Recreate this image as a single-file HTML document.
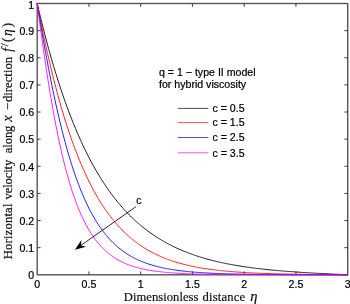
<!DOCTYPE html>
<html><head><meta charset="utf-8"><title>Velocity profile</title>
<style>
html,body{margin:0;padding:0;background:#fff;}
svg{display:block}
text{filter:grayscale(1)}
.t{font-family:"Liberation Sans",Arial,Helvetica,sans-serif;font-size:10.6px;fill:#000;stroke:#000;stroke-width:0.22px}
.s{font-family:"Liberation Serif","Times New Roman",serif;font-size:12.6px;fill:#111;stroke:#111;stroke-width:0.2px}
</style></head><body>
<svg width="350" height="304" viewBox="0 0 350 304">
<rect width="350" height="304" fill="#fff"/>
<rect x="37.2" y="3.5" width="310.50" height="271.30" fill="none" stroke="#555" stroke-width="1.4"/>
<text x="37.20" y="287.8" text-anchor="middle" class="t">0</text>
<path d="M88.95,274.8 v-3.4 M88.95,3.5 v3.4" stroke="#2a2a2a" stroke-width="0.9"/>
<text x="88.95" y="287.8" text-anchor="middle" class="t">0.5</text>
<path d="M140.70,274.8 v-3.4 M140.70,3.5 v3.4" stroke="#2a2a2a" stroke-width="0.9"/>
<text x="140.70" y="287.8" text-anchor="middle" class="t">1</text>
<path d="M192.45,274.8 v-3.4 M192.45,3.5 v3.4" stroke="#2a2a2a" stroke-width="0.9"/>
<text x="192.45" y="287.8" text-anchor="middle" class="t">1.5</text>
<path d="M244.20,274.8 v-3.4 M244.20,3.5 v3.4" stroke="#2a2a2a" stroke-width="0.9"/>
<text x="244.20" y="287.8" text-anchor="middle" class="t">2</text>
<path d="M295.95,274.8 v-3.4 M295.95,3.5 v3.4" stroke="#2a2a2a" stroke-width="0.9"/>
<text x="295.95" y="287.8" text-anchor="middle" class="t">2.5</text>
<text x="347.70" y="287.8" text-anchor="middle" class="t">3</text>
<text x="34.2" y="279.10" text-anchor="end" class="t">0</text>
<path d="M37.2,247.67 h3.4 M347.7,247.67 h-3.4" stroke="#2a2a2a" stroke-width="0.9"/>
<text x="34.2" y="251.97" text-anchor="end" class="t">0.1</text>
<path d="M37.2,220.54 h3.4 M347.7,220.54 h-3.4" stroke="#2a2a2a" stroke-width="0.9"/>
<text x="34.2" y="224.84" text-anchor="end" class="t">0.2</text>
<path d="M37.2,193.41 h3.4 M347.7,193.41 h-3.4" stroke="#2a2a2a" stroke-width="0.9"/>
<text x="34.2" y="197.71" text-anchor="end" class="t">0.3</text>
<path d="M37.2,166.28 h3.4 M347.7,166.28 h-3.4" stroke="#2a2a2a" stroke-width="0.9"/>
<text x="34.2" y="170.58" text-anchor="end" class="t">0.4</text>
<path d="M37.2,139.15 h3.4 M347.7,139.15 h-3.4" stroke="#2a2a2a" stroke-width="0.9"/>
<text x="34.2" y="143.45" text-anchor="end" class="t">0.5</text>
<path d="M37.2,112.02 h3.4 M347.7,112.02 h-3.4" stroke="#2a2a2a" stroke-width="0.9"/>
<text x="34.2" y="116.32" text-anchor="end" class="t">0.6</text>
<path d="M37.2,84.89 h3.4 M347.7,84.89 h-3.4" stroke="#2a2a2a" stroke-width="0.9"/>
<text x="34.2" y="89.19" text-anchor="end" class="t">0.7</text>
<path d="M37.2,57.76 h3.4 M347.7,57.76 h-3.4" stroke="#2a2a2a" stroke-width="0.9"/>
<text x="34.2" y="62.06" text-anchor="end" class="t">0.8</text>
<path d="M37.2,30.63 h3.4 M347.7,30.63 h-3.4" stroke="#2a2a2a" stroke-width="0.9"/>
<text x="34.2" y="34.93" text-anchor="end" class="t">0.9</text>
<text x="34.2" y="8.70" text-anchor="end" class="t">1</text>

<path d="M37.20,3.50 L38.23,7.93 L39.27,12.29 L40.30,16.59 L41.34,20.81 L42.38,24.98 L43.41,29.07 L44.45,33.10 L45.48,37.07 L46.52,40.98 L47.55,44.83 L48.59,48.61 L49.62,52.34 L50.66,56.01 L51.69,59.61 L52.73,63.17 L53.76,66.66 L54.80,70.10 L55.83,73.49 L56.87,76.82 L57.90,80.10 L58.94,83.33 L59.97,86.51 L61.01,89.64 L62.04,92.71 L63.08,95.74 L64.11,98.72 L65.15,101.65 L66.18,104.54 L67.22,107.38 L68.25,110.17 L69.28,112.92 L70.32,115.62 L71.36,118.28 L72.39,120.90 L73.43,123.48 L74.46,126.01 L75.50,128.51 L76.53,130.96 L77.56,133.38 L78.60,135.75 L79.64,138.09 L80.67,140.39 L81.71,142.65 L82.74,144.87 L83.78,147.06 L84.81,149.22 L85.84,151.34 L86.88,153.42 L87.91,155.47 L88.95,157.49 L89.99,159.47 L91.02,161.42 L92.06,163.34 L93.09,165.23 L94.12,167.09 L95.16,168.91 L96.20,170.71 L97.23,172.48 L98.27,174.22 L99.30,175.93 L100.34,177.61 L101.37,179.26 L102.41,180.89 L103.44,182.49 L104.48,184.07 L105.51,185.61 L106.55,187.14 L107.58,188.63 L108.62,190.11 L109.65,191.55 L110.69,192.98 L111.72,194.38 L112.75,195.75 L113.79,197.11 L114.83,198.44 L115.86,199.75 L116.89,201.04 L117.93,202.31 L118.97,203.55 L120.00,204.78 L121.04,205.98 L122.07,207.16 L123.11,208.33 L124.14,209.47 L125.17,210.60 L126.21,211.71 L127.24,212.80 L128.28,213.87 L129.31,214.92 L130.35,215.95 L131.38,216.97 L132.42,217.97 L133.45,218.95 L134.49,219.92 L135.53,220.87 L136.56,221.81 L137.59,222.73 L138.63,223.63 L139.67,224.52 L140.70,225.39 L141.74,226.25 L142.77,227.09 L143.81,227.92 L144.84,228.74 L145.88,229.54 L146.91,230.33 L147.94,231.10 L148.98,231.87 L150.01,232.61 L151.05,233.35 L152.09,234.07 L153.12,234.79 L154.16,235.48 L155.19,236.17 L156.23,236.85 L157.26,237.51 L158.29,238.17 L159.33,238.81 L160.37,239.44 L161.40,240.06 L162.44,240.67 L163.47,241.27 L164.50,241.86 L165.54,242.44 L166.57,243.00 L167.61,243.56 L168.64,244.11 L169.68,244.65 L170.71,245.18 L171.75,245.71 L172.79,246.22 L173.82,246.72 L174.86,247.22 L175.89,247.71 L176.93,248.19 L177.96,248.66 L179.00,249.12 L180.03,249.57 L181.06,250.02 L182.10,250.46 L183.13,250.89 L184.17,251.32 L185.20,251.73 L186.24,252.14 L187.27,252.55 L188.31,252.94 L189.35,253.33 L190.38,253.71 L191.42,254.09 L192.45,254.46 L193.49,254.82 L194.52,255.18 L195.56,255.53 L196.59,255.87 L197.62,256.21 L198.66,256.54 L199.69,256.87 L200.73,257.19 L201.76,257.51 L202.80,257.82 L203.84,258.12 L204.87,258.42 L205.91,258.72 L206.94,259.01 L207.98,259.29 L209.01,259.57 L210.05,259.85 L211.08,260.12 L212.12,260.38 L213.15,260.64 L214.19,260.90 L215.22,261.15 L216.25,261.40 L217.29,261.64 L218.32,261.88 L219.36,262.12 L220.39,262.35 L221.43,262.57 L222.47,262.80 L223.50,263.02 L224.54,263.23 L225.57,263.44 L226.61,263.65 L227.64,263.86 L228.68,264.06 L229.71,264.26 L230.75,264.45 L231.78,264.64 L232.81,264.83 L233.85,265.01 L234.88,265.20 L235.92,265.37 L236.95,265.55 L237.99,265.72 L239.03,265.89 L240.06,266.06 L241.09,266.22 L242.13,266.38 L243.17,266.54 L244.20,266.70 L245.24,266.85 L246.27,267.00 L247.31,267.15 L248.34,267.29 L249.38,267.44 L250.41,267.58 L251.44,267.72 L252.48,267.85 L253.51,267.99 L254.55,268.12 L255.58,268.25 L256.62,268.38 L257.65,268.50 L258.69,268.62 L259.73,268.75 L260.76,268.86 L261.79,268.98 L262.83,269.10 L263.87,269.21 L264.90,269.32 L265.94,269.43 L266.97,269.54 L268.00,269.65 L269.04,269.75 L270.07,269.85 L271.11,269.96 L272.15,270.06 L273.18,270.15 L274.21,270.25 L275.25,270.35 L276.29,270.44 L277.32,270.53 L278.36,270.62 L279.39,270.71 L280.43,270.80 L281.46,270.89 L282.50,270.98 L283.53,271.06 L284.57,271.14 L285.60,271.23 L286.63,271.31 L287.67,271.39 L288.71,271.46 L289.74,271.54 L290.78,271.62 L291.81,271.69 L292.85,271.77 L293.88,271.84 L294.92,271.91 L295.95,271.99 L296.99,272.06 L298.02,272.13 L299.06,272.19 L300.09,272.26 L301.12,272.33 L302.16,272.40 L303.19,272.46 L304.23,272.53 L305.26,272.59 L306.30,272.65 L307.33,272.72 L308.37,272.78 L309.40,272.84 L310.44,272.90 L311.47,272.96 L312.51,273.02 L313.55,273.08 L314.58,273.13 L315.61,273.19 L316.65,273.25 L317.69,273.31 L318.72,273.36 L319.75,273.42 L320.79,273.47 L321.82,273.53 L322.86,273.58 L323.89,273.63 L324.93,273.69 L325.97,273.74 L327.00,273.79 L328.03,273.85 L329.07,273.90 L330.11,273.95 L331.14,274.00 L332.18,274.05 L333.21,274.10 L334.25,274.15 L335.28,274.20 L336.31,274.26 L337.35,274.31 L338.38,274.36 L339.42,274.41 L340.45,274.45 L341.49,274.50 L342.53,274.55 L343.56,274.60 L344.60,274.65 L345.63,274.70 L346.67,274.75 L347.70,274.80" fill="none" stroke="#000" stroke-width="0.88"/>
<path d="M37.20,3.50 L38.23,8.92 L39.27,14.25 L40.30,19.48 L41.34,24.62 L42.38,29.66 L43.41,34.62 L44.45,39.49 L45.48,44.27 L46.52,48.96 L47.55,53.57 L48.59,58.10 L49.62,62.54 L50.66,66.90 L51.69,71.18 L52.73,75.39 L53.76,79.51 L54.80,83.56 L55.83,87.53 L56.87,91.43 L57.90,95.26 L58.94,99.01 L59.97,102.69 L61.01,106.31 L62.04,109.85 L63.08,113.33 L64.11,116.74 L65.15,120.09 L66.18,123.37 L67.22,126.58 L68.25,129.74 L69.28,132.84 L70.32,135.87 L71.36,138.85 L72.39,141.76 L73.43,144.63 L74.46,147.43 L75.50,150.18 L76.53,152.87 L77.56,155.52 L78.60,158.10 L79.64,160.64 L80.67,163.13 L81.71,165.57 L82.74,167.95 L83.78,170.29 L84.81,172.59 L85.84,174.83 L86.88,177.03 L87.91,179.19 L88.95,181.30 L89.99,183.37 L91.02,185.40 L92.06,187.38 L93.09,189.33 L94.12,191.23 L95.16,193.10 L96.20,194.92 L97.23,196.71 L98.27,198.46 L99.30,200.18 L100.34,201.86 L101.37,203.50 L102.41,205.11 L103.44,206.69 L104.48,208.23 L105.51,209.74 L106.55,211.22 L107.58,212.66 L108.62,214.08 L109.65,215.46 L110.69,216.82 L111.72,218.15 L112.75,219.44 L113.79,220.71 L114.83,221.96 L115.86,223.17 L116.89,224.36 L117.93,225.53 L118.97,226.67 L120.00,227.78 L121.04,228.87 L122.07,229.94 L123.11,230.98 L124.14,232.00 L125.17,233.00 L126.21,233.97 L127.24,234.93 L128.28,235.86 L129.31,236.77 L130.35,237.66 L131.38,238.54 L132.42,239.39 L133.45,240.22 L134.49,241.04 L135.53,241.84 L136.56,242.62 L137.59,243.38 L138.63,244.12 L139.67,244.85 L140.70,245.56 L141.74,246.26 L142.77,246.94 L143.81,247.60 L144.84,248.25 L145.88,248.89 L146.91,249.51 L147.94,250.11 L148.98,250.71 L150.01,251.28 L151.05,251.85 L152.09,252.40 L153.12,252.94 L154.16,253.47 L155.19,253.99 L156.23,254.49 L157.26,254.98 L158.29,255.46 L159.33,255.93 L160.37,256.39 L161.40,256.84 L162.44,257.27 L163.47,257.70 L164.50,258.12 L165.54,258.52 L166.57,258.92 L167.61,259.31 L168.64,259.69 L169.68,260.06 L170.71,260.42 L171.75,260.78 L172.79,261.12 L173.82,261.46 L174.86,261.79 L175.89,262.11 L176.93,262.42 L177.96,262.73 L179.00,263.03 L180.03,263.32 L181.06,263.60 L182.10,263.88 L183.13,264.15 L184.17,264.42 L185.20,264.68 L186.24,264.93 L187.27,265.17 L188.31,265.41 L189.35,265.65 L190.38,265.88 L191.42,266.10 L192.45,266.32 L193.49,266.53 L194.52,266.74 L195.56,266.94 L196.59,267.14 L197.62,267.33 L198.66,267.52 L199.69,267.70 L200.73,267.88 L201.76,268.06 L202.80,268.23 L203.84,268.39 L204.87,268.56 L205.91,268.71 L206.94,268.87 L207.98,269.02 L209.01,269.17 L210.05,269.31 L211.08,269.45 L212.12,269.59 L213.15,269.72 L214.19,269.85 L215.22,269.97 L216.25,270.10 L217.29,270.22 L218.32,270.34 L219.36,270.45 L220.39,270.56 L221.43,270.67 L222.47,270.78 L223.50,270.88 L224.54,270.98 L225.57,271.08 L226.61,271.18 L227.64,271.27 L228.68,271.36 L229.71,271.45 L230.75,271.54 L231.78,271.62 L232.81,271.70 L233.85,271.78 L234.88,271.86 L235.92,271.94 L236.95,272.01 L237.99,272.08 L239.03,272.16 L240.06,272.22 L241.09,272.29 L242.13,272.36 L243.17,272.42 L244.20,272.48 L245.24,272.54 L246.27,272.60 L247.31,272.66 L248.34,272.72 L249.38,272.77 L250.41,272.83 L251.44,272.88 L252.48,272.93 L253.51,272.98 L254.55,273.03 L255.58,273.07 L256.62,273.12 L257.65,273.17 L258.69,273.21 L259.73,273.25 L260.76,273.29 L261.79,273.33 L262.83,273.37 L263.87,273.41 L264.90,273.45 L265.94,273.48 L266.97,273.52 L268.00,273.56 L269.04,273.59 L270.07,273.62 L271.11,273.65 L272.15,273.69 L273.18,273.72 L274.21,273.75 L275.25,273.77 L276.29,273.80 L277.32,273.83 L278.36,273.86 L279.39,273.88 L280.43,273.91 L281.46,273.93 L282.50,273.96 L283.53,273.98 L284.57,274.01 L285.60,274.03 L286.63,274.05 L287.67,274.07 L288.71,274.09 L289.74,274.11 L290.78,274.13 L291.81,274.15 L292.85,274.17 L293.88,274.19 L294.92,274.21 L295.95,274.23 L296.99,274.25 L298.02,274.26 L299.06,274.28 L300.09,274.30 L301.12,274.31 L302.16,274.33 L303.19,274.34 L304.23,274.36 L305.26,274.37 L306.30,274.39 L307.33,274.40 L308.37,274.41 L309.40,274.43 L310.44,274.44 L311.47,274.45 L312.51,274.47 L313.55,274.48 L314.58,274.49 L315.61,274.50 L316.65,274.51 L317.69,274.52 L318.72,274.54 L319.75,274.55 L320.79,274.56 L321.82,274.57 L322.86,274.58 L323.89,274.59 L324.93,274.60 L325.97,274.61 L327.00,274.62 L328.03,274.63 L329.07,274.64 L330.11,274.65 L331.14,274.66 L332.18,274.67 L333.21,274.68 L334.25,274.69 L335.28,274.70 L336.31,274.70 L337.35,274.71 L338.38,274.72 L339.42,274.73 L340.45,274.74 L341.49,274.75 L342.53,274.76 L343.56,274.77 L344.60,274.77 L345.63,274.78 L346.67,274.79 L347.70,274.80" fill="none" stroke="#f00" stroke-width="0.88"/>
<path d="M37.20,3.50 L38.23,9.83 L39.27,16.09 L40.30,22.27 L41.34,28.37 L42.38,34.39 L43.41,40.31 L44.45,46.15 L45.48,51.89 L46.52,57.54 L47.55,63.10 L48.59,68.55 L49.62,73.91 L50.66,79.17 L51.69,84.33 L52.73,89.39 L53.76,94.35 L54.80,99.20 L55.83,103.96 L56.87,108.61 L57.90,113.17 L58.94,117.62 L59.97,121.97 L61.01,126.23 L62.04,130.39 L63.08,134.45 L64.11,138.41 L65.15,142.28 L66.18,146.06 L67.22,149.74 L68.25,153.34 L69.28,156.84 L70.32,160.25 L71.36,163.58 L72.39,166.82 L73.43,169.98 L74.46,173.06 L75.50,176.05 L76.53,178.96 L77.56,181.80 L78.60,184.56 L79.64,187.24 L80.67,189.86 L81.71,192.39 L82.74,194.86 L83.78,197.26 L84.81,199.60 L85.84,201.87 L86.88,204.07 L87.91,206.21 L88.95,208.29 L89.99,210.31 L91.02,212.27 L92.06,214.18 L93.09,216.03 L94.12,217.83 L95.16,219.57 L96.20,221.26 L97.23,222.91 L98.27,224.50 L99.30,226.05 L100.34,227.55 L101.37,229.01 L102.41,230.42 L103.44,231.79 L104.48,233.12 L105.51,234.41 L106.55,235.66 L107.58,236.88 L108.62,238.05 L109.65,239.19 L110.69,240.30 L111.72,241.37 L112.75,242.41 L113.79,243.42 L114.83,244.40 L115.86,245.35 L116.89,246.26 L117.93,247.15 L118.97,248.02 L120.00,248.85 L121.04,249.66 L122.07,250.45 L123.11,251.21 L124.14,251.95 L125.17,252.66 L126.21,253.35 L127.24,254.02 L128.28,254.67 L129.31,255.30 L130.35,255.91 L131.38,256.51 L132.42,257.08 L133.45,257.63 L134.49,258.17 L135.53,258.69 L136.56,259.20 L137.59,259.69 L138.63,260.16 L139.67,260.62 L140.70,261.06 L141.74,261.49 L142.77,261.91 L143.81,262.31 L144.84,262.70 L145.88,263.08 L146.91,263.45 L147.94,263.81 L148.98,264.15 L150.01,264.48 L151.05,264.81 L152.09,265.12 L153.12,265.42 L154.16,265.72 L155.19,266.00 L156.23,266.28 L157.26,266.54 L158.29,266.80 L159.33,267.05 L160.37,267.29 L161.40,267.53 L162.44,267.76 L163.47,267.98 L164.50,268.19 L165.54,268.40 L166.57,268.60 L167.61,268.79 L168.64,268.98 L169.68,269.16 L170.71,269.33 L171.75,269.51 L172.79,269.67 L173.82,269.83 L174.86,269.99 L175.89,270.14 L176.93,270.28 L177.96,270.42 L179.00,270.56 L180.03,270.69 L181.06,270.82 L182.10,270.94 L183.13,271.06 L184.17,271.18 L185.20,271.29 L186.24,271.40 L187.27,271.51 L188.31,271.61 L189.35,271.71 L190.38,271.80 L191.42,271.90 L192.45,271.99 L193.49,272.08 L194.52,272.16 L195.56,272.24 L196.59,272.32 L197.62,272.40 L198.66,272.47 L199.69,272.55 L200.73,272.62 L201.76,272.68 L202.80,272.75 L203.84,272.81 L204.87,272.87 L205.91,272.93 L206.94,272.99 L207.98,273.05 L209.01,273.10 L210.05,273.15 L211.08,273.21 L212.12,273.25 L213.15,273.30 L214.19,273.35 L215.22,273.39 L216.25,273.44 L217.29,273.48 L218.32,273.52 L219.36,273.56 L220.39,273.60 L221.43,273.64 L222.47,273.67 L223.50,273.71 L224.54,273.74 L225.57,273.77 L226.61,273.80 L227.64,273.84 L228.68,273.87 L229.71,273.89 L230.75,273.92 L231.78,273.95 L232.81,273.98 L233.85,274.00 L234.88,274.03 L235.92,274.05 L236.95,274.07 L237.99,274.10 L239.03,274.12 L240.06,274.14 L241.09,274.16 L242.13,274.18 L243.17,274.20 L244.20,274.22 L245.24,274.23 L246.27,274.25 L247.31,274.27 L248.34,274.28 L249.38,274.30 L250.41,274.32 L251.44,274.33 L252.48,274.35 L253.51,274.36 L254.55,274.37 L255.58,274.39 L256.62,274.40 L257.65,274.41 L258.69,274.42 L259.73,274.44 L260.76,274.45 L261.79,274.46 L262.83,274.47 L263.87,274.48 L264.90,274.49 L265.94,274.50 L266.97,274.51 L268.00,274.52 L269.04,274.53 L270.07,274.53 L271.11,274.54 L272.15,274.55 L273.18,274.56 L274.21,274.57 L275.25,274.57 L276.29,274.58 L277.32,274.59 L278.36,274.59 L279.39,274.60 L280.43,274.61 L281.46,274.61 L282.50,274.62 L283.53,274.62 L284.57,274.63 L285.60,274.64 L286.63,274.64 L287.67,274.65 L288.71,274.65 L289.74,274.66 L290.78,274.66 L291.81,274.67 L292.85,274.67 L293.88,274.67 L294.92,274.68 L295.95,274.68 L296.99,274.69 L298.02,274.69 L299.06,274.69 L300.09,274.70 L301.12,274.70 L302.16,274.70 L303.19,274.71 L304.23,274.71 L305.26,274.71 L306.30,274.72 L307.33,274.72 L308.37,274.72 L309.40,274.73 L310.44,274.73 L311.47,274.73 L312.51,274.73 L313.55,274.74 L314.58,274.74 L315.61,274.74 L316.65,274.74 L317.69,274.75 L318.72,274.75 L319.75,274.75 L320.79,274.75 L321.82,274.76 L322.86,274.76 L323.89,274.76 L324.93,274.76 L325.97,274.76 L327.00,274.77 L328.03,274.77 L329.07,274.77 L330.11,274.77 L331.14,274.77 L332.18,274.77 L333.21,274.78 L334.25,274.78 L335.28,274.78 L336.31,274.78 L337.35,274.78 L338.38,274.79 L339.42,274.79 L340.45,274.79 L341.49,274.79 L342.53,274.79 L343.56,274.79 L344.60,274.80 L345.63,274.80 L346.67,274.80 L347.70,274.80" fill="none" stroke="#00f" stroke-width="0.88"/>
<path d="M37.20,3.50 L38.23,11.45 L39.27,19.30 L40.30,27.02 L41.34,34.60 L42.38,42.06 L43.41,49.37 L44.45,56.53 L45.48,63.54 L46.52,70.40 L47.55,77.10 L48.59,83.64 L49.62,90.02 L50.66,96.23 L51.69,102.29 L52.73,108.18 L53.76,113.92 L54.80,119.49 L55.83,124.90 L56.87,130.16 L57.90,135.26 L58.94,140.21 L59.97,145.00 L61.01,149.65 L62.04,154.15 L63.08,158.51 L64.11,162.73 L65.15,166.81 L66.18,170.76 L67.22,174.58 L68.25,178.26 L69.28,181.83 L70.32,185.27 L71.36,188.59 L72.39,191.80 L73.43,194.90 L74.46,197.89 L75.50,200.77 L76.53,203.55 L77.56,206.23 L78.60,208.81 L79.64,211.31 L80.67,213.71 L81.71,216.02 L82.74,218.25 L83.78,220.40 L84.81,222.47 L85.84,224.46 L86.88,226.38 L87.91,228.22 L88.95,230.00 L89.99,231.71 L91.02,233.36 L92.06,234.95 L93.09,236.47 L94.12,237.94 L95.16,239.36 L96.20,240.71 L97.23,242.02 L98.27,243.28 L99.30,244.49 L100.34,245.66 L101.37,246.78 L102.41,247.85 L103.44,248.89 L104.48,249.88 L105.51,250.84 L106.55,251.76 L107.58,252.65 L108.62,253.50 L109.65,254.32 L110.69,255.11 L111.72,255.87 L112.75,256.59 L113.79,257.29 L114.83,257.97 L115.86,258.61 L116.89,259.24 L117.93,259.83 L118.97,260.41 L120.00,260.96 L121.04,261.49 L122.07,262.01 L123.11,262.50 L124.14,262.97 L125.17,263.42 L126.21,263.86 L127.24,264.28 L128.28,264.68 L129.31,265.07 L130.35,265.44 L131.38,265.80 L132.42,266.15 L133.45,266.48 L134.49,266.80 L135.53,267.10 L136.56,267.40 L137.59,267.68 L138.63,267.95 L139.67,268.22 L140.70,268.47 L141.74,268.71 L142.77,268.94 L143.81,269.17 L144.84,269.38 L145.88,269.59 L146.91,269.79 L147.94,269.98 L148.98,270.16 L150.01,270.34 L151.05,270.51 L152.09,270.67 L153.12,270.83 L154.16,270.98 L155.19,271.13 L156.23,271.27 L157.26,271.40 L158.29,271.53 L159.33,271.65 L160.37,271.77 L161.40,271.89 L162.44,272.00 L163.47,272.11 L164.50,272.21 L165.54,272.31 L166.57,272.40 L167.61,272.49 L168.64,272.58 L169.68,272.66 L170.71,272.74 L171.75,272.82 L172.79,272.90 L173.82,272.97 L174.86,273.04 L175.89,273.11 L176.93,273.17 L177.96,273.23 L179.00,273.29 L180.03,273.35 L181.06,273.40 L182.10,273.46 L183.13,273.51 L184.17,273.56 L185.20,273.60 L186.24,273.65 L187.27,273.69 L188.31,273.73 L189.35,273.77 L190.38,273.81 L191.42,273.85 L192.45,273.88 L193.49,273.92 L194.52,273.95 L195.56,273.98 L196.59,274.02 L197.62,274.04 L198.66,274.07 L199.69,274.10 L200.73,274.13 L201.76,274.15 L202.80,274.18 L203.84,274.20 L204.87,274.22 L205.91,274.24 L206.94,274.27 L207.98,274.29 L209.01,274.30 L210.05,274.32 L211.08,274.34 L212.12,274.36 L213.15,274.38 L214.19,274.39 L215.22,274.41 L216.25,274.42 L217.29,274.44 L218.32,274.45 L219.36,274.46 L220.39,274.48 L221.43,274.49 L222.47,274.50 L223.50,274.51 L224.54,274.52 L225.57,274.53 L226.61,274.54 L227.64,274.55 L228.68,274.56 L229.71,274.57 L230.75,274.58 L231.78,274.59 L232.81,274.59 L233.85,274.60 L234.88,274.61 L235.92,274.62 L236.95,274.62 L237.99,274.63 L239.03,274.64 L240.06,274.64 L241.09,274.65 L242.13,274.65 L243.17,274.66 L244.20,274.67 L245.24,274.67 L246.27,274.68 L247.31,274.68 L248.34,274.68 L249.38,274.69 L250.41,274.69 L251.44,274.70 L252.48,274.70 L253.51,274.70 L254.55,274.71 L255.58,274.71 L256.62,274.71 L257.65,274.72 L258.69,274.72 L259.73,274.72 L260.76,274.73 L261.79,274.73 L262.83,274.73 L263.87,274.73 L264.90,274.74 L265.94,274.74 L266.97,274.74 L268.00,274.74 L269.04,274.75 L270.07,274.75 L271.11,274.75 L272.15,274.75 L273.18,274.75 L274.21,274.76 L275.25,274.76 L276.29,274.76 L277.32,274.76 L278.36,274.76 L279.39,274.76 L280.43,274.76 L281.46,274.77 L282.50,274.77 L283.53,274.77 L284.57,274.77 L285.60,274.77 L286.63,274.77 L287.67,274.77 L288.71,274.77 L289.74,274.78 L290.78,274.78 L291.81,274.78 L292.85,274.78 L293.88,274.78 L294.92,274.78 L295.95,274.78 L296.99,274.78 L298.02,274.78 L299.06,274.78 L300.09,274.78 L301.12,274.78 L302.16,274.78 L303.19,274.79 L304.23,274.79 L305.26,274.79 L306.30,274.79 L307.33,274.79 L308.37,274.79 L309.40,274.79 L310.44,274.79 L311.47,274.79 L312.51,274.79 L313.55,274.79 L314.58,274.79 L315.61,274.79 L316.65,274.79 L317.69,274.79 L318.72,274.79 L319.75,274.79 L320.79,274.79 L321.82,274.79 L322.86,274.79 L323.89,274.79 L324.93,274.79 L325.97,274.79 L327.00,274.80 L328.03,274.80 L329.07,274.80 L330.11,274.80 L331.14,274.80 L332.18,274.80 L333.21,274.80 L334.25,274.80 L335.28,274.80 L336.31,274.80 L337.35,274.80 L338.38,274.80 L339.42,274.80 L340.45,274.80 L341.49,274.80 L342.53,274.80 L343.56,274.80 L344.60,274.80 L345.63,274.80 L346.67,274.80 L347.70,274.80" fill="none" stroke="#f0f" stroke-width="0.88"/>

<text x="159" y="75.6" class="t">q = 1 − type II model</text>
<text x="159" y="87.8" class="t">for hybrid viscosity</text>
<path d="M177.8,108.4 H208.4" stroke="#000" stroke-width="0.7"/>
<text x="212.5" y="112.2" class="t">c = 0.5</text>
<path d="M177.8,122.6 H208.4" stroke="#f00" stroke-width="0.7"/>
<text x="212.5" y="126.39999999999999" class="t">c = 1.5</text>
<path d="M177.8,137.5 H208.4" stroke="#00f" stroke-width="0.7"/>
<text x="212.5" y="141.3" class="t">c = 2.5</text>
<path d="M177.8,152.8 H208.4" stroke="#f0f" stroke-width="0.7"/>
<text x="212.5" y="156.60000000000002" class="t">c = 3.5</text>

<path d="M135.9,206.7 L80.5,245.7" stroke="#000" stroke-width="0.85" fill="none"/>
<path d="M74.9,249.7 L81.45,240.1 L80.9,245.4 L86.1,246.7 Z" fill="#000"/>
<text x="136.3" y="204" class="t">c</text>
<text x="123.8" y="300.5" class="s" textLength="74.6" lengthAdjust="spacing">Dimensionless</text>
<text x="202.4" y="300.5" class="s" textLength="42.8" lengthAdjust="spacing">distance</text>
<text x="250.2" y="300.5" class="s" font-style="italic" style="font-size:14.6px">η</text>
<g transform="translate(11.8,0) rotate(-90)">
<text x="-259.2" y="0" class="s" textLength="55.6" lengthAdjust="spacing">Horizontal</text>
<text x="-199.4" y="0" class="s" textLength="39.6" lengthAdjust="spacing">velocity</text>
<text x="-153.2" y="0" class="s" textLength="27.6" lengthAdjust="spacing">along</text>
<text x="-121.7" y="0" class="s" font-style="italic" style="font-size:14.5px">x</text>
<text x="-110" y="0" class="s">−</text>
<text x="-102.1" y="0" class="s" textLength="45.2" lengthAdjust="spacing">direction</text>
</g>
<text transform="translate(11.8,51.8) rotate(-90)" class="s" style="font-size:13.6px"><tspan font-style="italic">f</tspan><tspan dx="1.8" dy="-3.6" style="font-size:11px">/</tspan><tspan dx="1.2" dy="3.6">(</tspan><tspan dx="1.5" font-style="italic">η</tspan><tspan dx="1.8">)</tspan></text>
</svg>
</body></html>
